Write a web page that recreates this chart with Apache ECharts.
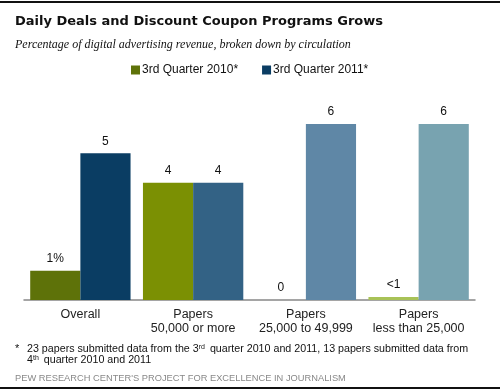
<!DOCTYPE html>
<html>
<head>
<meta charset="utf-8">
<script src="https://cdn.jsdelivr.net/npm/echarts@6/dist/echarts.min.js"></script>
<style>html,body{margin:0;padding:0;background:#fff;}#c{width:500px;height:391px;}</style>
</head>
<body>
<div id="c"></div>
<script>
var categories = ['Overall', 'Papers\n50,000 or more', 'Papers\n25,000 to 49,999', 'Papers\nless than 25,000'];
var seriesNames = ['3rd Quarter 2010*', '3rd Quarter 2011*'];
var values2010 = [1, 4, 0, 0.1];
var values2011 = [5, 4, 6, 6];
var labels2010 = ['1%', '4', '0', '<1'];
var labels2011 = ['5', '4', '6', '6'];
var colors2010 = ['#5e7209', '#7b9003', '#7b9003', '#a8c257'];
var colors2011 = ['#0a3d63', '#336285', '#5f87a6', '#78a3b0'];

var FONT = 'Liberation Sans, Arial, sans-serif';

function mk(vals, labs, cols) {
  return vals.map(function (v, i) {
    return { value: v, itemStyle: { color: cols[i] }, label: { formatter: labs[i] } };
  });
}

var chart = echarts.init(document.getElementById('c'), null, { renderer: 'canvas' });
chart.setOption({
  animation: false,
  backgroundColor: '#fff',
  title: [
    { text: 'Daily Deals and Discount Coupon Programs Grows', left: 10, top: 10,
      textStyle: { fontFamily: 'DejaVu Sans', fontWeight: 'bold', fontSize: 13, color: '#111' } },
    { text: 'Percentage of digital advertising revenue, broken down by circulation', left: 10, top: 34,
      textStyle: { fontFamily: 'Liberation Serif, serif', fontStyle: 'italic', fontWeight: 'normal', fontSize: 12, color: '#111' } },
    { text: '*', left: 10, top: 338, textStyle: { fontFamily: FONT, fontSize: 11, fontWeight: 'normal', color: '#111' } },
    { text: '23 papers submitted data from the 3{sup|rd} quarter 2010 and 2011, 13 papers submitted data from\n4{sup|th} quarter 2010 and 2011',
      left: 22, top: 339,
      textStyle: { fontFamily: FONT, fontSize: 10.7, fontWeight: 'normal', color: '#111', lineHeight: 11,
        rich: { sup: { fontFamily: FONT, fontSize: 7, color: '#111', padding: [0, 2, 5, 0] } } } },
    { text: "PEW RESEARCH CENTER'S PROJECT FOR EXCELLENCE IN JOURNALISM", left: 10, top: 369,
      textStyle: { fontFamily: FONT, fontSize: 9.3, fontWeight: 'normal', color: '#888' } }
  ],
  graphic: [
    { type: 'rect', shape: { x: 0, y: 1, width: 500, height: 2 }, style: { fill: '#111' } },
    { type: 'rect', shape: { x: 0, y: 387, width: 500, height: 2 }, style: { fill: '#111' } }
  ],
  legend: {
    data: seriesNames, left: 131, top: 64, padding: 0, icon: 'rect', itemWidth: 9, itemHeight: 9, itemGap: 24,
    textStyle: { fontFamily: FONT, fontSize: 12, color: '#111', padding: [0, 0, 0, -3] }
  },
  grid: { left: 24, right: 25, top: 124, bottom: 91 },
  xAxis: {
    type: 'category', data: categories,
    axisLine: { lineStyle: { color: '#888', width: 1.5 } },
    axisTick: { show: false },
    axisLabel: { fontFamily: FONT, fontSize: 12.5, color: '#222', lineHeight: 14, margin: 8, interval: 0 }
  },
  yAxis: { type: 'value', min: 0, max: 6, show: false, splitLine: { show: false } },
  series: [
    { name: seriesNames[0], type: 'bar', barGap: '0%', barCategoryGap: '11%',
      itemStyle: { color: '#5e7209' },
      label: { show: true, position: 'top', distance: 6, fontFamily: FONT, fontSize: 12, color: '#111' },
      data: mk(values2010, labels2010, colors2010) },
    { name: seriesNames[1], type: 'bar', barGap: '0%', barCategoryGap: '11%',
      itemStyle: { color: '#0a3d63' },
      label: { show: true, position: 'top', distance: 6, fontFamily: FONT, fontSize: 12, color: '#111' },
      data: mk(values2011, labels2011, colors2011) }
  ]
});
</script>
</body>
</html>
